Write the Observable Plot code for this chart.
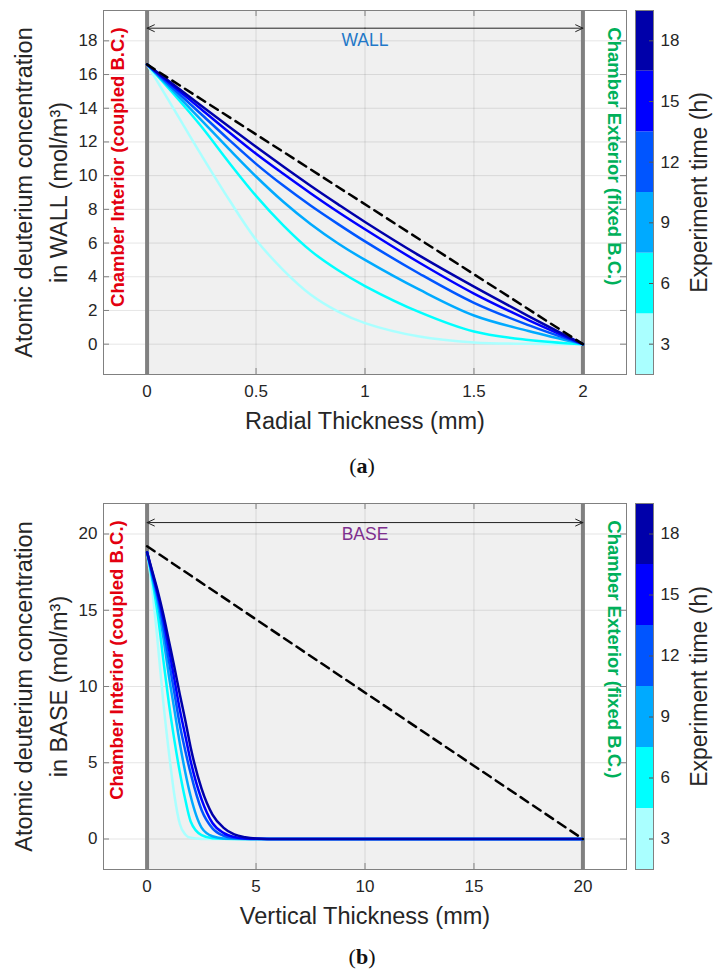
<!DOCTYPE html>
<html>
<head>
<meta charset="utf-8">
<script src="https://cdn.jsdelivr.net/npm/d3@7"></script>
<script src="https://cdn.jsdelivr.net/npm/@observablehq/plot@0.6"></script>
<style>
html,body{margin:0;padding:0;background:#fff;width:713px;overflow:hidden;}
.row{display:flex;width:713px;height:440px;}
.cap{width:702px;padding-left:11px;text-align:center;font-family:"Liberation Serif","DejaVu Serif",serif;font-size:22px;color:#111;overflow:hidden;}
svg{display:block;overflow:visible}
</style>
</head>
<body>
<div class="row" id="rowA"></div>
<div class="cap" style="height:50px;line-height:52px">(<b>a</b>)</div>
<div class="row" id="rowB"></div>
<div class="cap" style="height:44px;line-height:54px">(<b>b</b>)</div>
<script>
// ---- shared ----
const times = [3, 6, 9, 12, 15, 18];
const colors = ["#aaffff", "#00ffff", "#00aaff", "#0055ff", "#0000ff", "#0000aa"];
const cbEdges = [1.5, 4.5, 7.5, 10.5, 13.5, 16.5, 19.5];

// ---- (a) WALL ----
const wallX = [0, 0.125, 0.25, 0.375, 0.5, 0.625, 0.75, 0.875, 1, 1.25, 1.5, 1.75, 2];
const wall3h  = [16.6, 13.9, 11.2, 8.6, 6.2, 4.4, 2.95, 1.95, 1.25, 0.45, 0.1, 0.02, 0];
const wall6h  = [16.6, 14.8, 12.9, 10.8, 8.8, 7.05, 5.55, 4.4, 3.45, 1.9, 0.75, 0.25, 0];
const wall9h  = [16.6, 14.96, 13.28, 11.59, 9.95, 8.45, 7.13, 5.99, 5.0, 3.23, 1.7, 0.78, 0];
const wall12h = [16.6, 15.11, 13.63, 12.14, 10.7, 9.41, 8.23, 7.14, 6.1, 4.18, 2.45, 1.13, 0];
const wall15h = [16.6, 15.26, 13.93, 12.59, 11.3, 10.11, 8.96, 7.86, 6.82, 4.83, 3.0, 1.43, 0];
const wall18h = [16.6, 15.36, 14.13, 12.91, 11.71, 10.54, 9.4, 8.31, 7.25, 5.25, 3.41, 1.67, 0];
const wallSeries = [wall3h, wall6h, wall9h, wall12h, wall15h, wall18h];
const wallDashX = [0, 2];
const wallDashY = [16.6, 0];
const wallBounds = [0, 2];
const wallXTicks = [0, 0.5, 1, 1.5, 2];
const wallYTicks = [0, 2, 4, 6, 8, 10, 12, 14, 16, 18];

// ---- (b) BASE ----
const baseX = [0, 0.25, 0.5, 0.75, 1, 1.25, 1.5, 1.75, 2, 2.5, 3, 3.5, 4, 4.5, 5, 6, 20];
const base3h  = [18.8, 16.2, 12.7, 8.9, 5.7, 2.9, 1.0, 0.3, 0.08, 0.005, 0, 0, 0, 0, 0, 0, 0];
const base6h  = [18.8, 16.9, 14.6, 11.7, 8.9, 6.5, 4.4, 2.6, 1.15, 0.25, 0.05, 0.01, 0, 0, 0, 0, 0];
const base9h  = [18.8, 17.1, 15.4, 13.2, 10.7, 8.5, 6.3, 4.4, 2.8, 0.75, 0.18, 0.04, 0.01, 0, 0, 0, 0];
const base12h = [18.8, 17.3, 15.8, 13.9, 11.7, 9.6, 7.5, 5.8, 4.3, 1.9, 0.7, 0.22, 0.06, 0.015, 0, 0, 0];
const base15h = [18.8, 17.4, 16.0, 14.4, 12.5, 10.5, 8.5, 6.8, 5.1, 2.6, 1.05, 0.4, 0.13, 0.04, 0.01, 0, 0];
const base18h = [18.8, 17.5, 16.2, 14.7, 13.0, 11.3, 9.5, 7.8, 6.0, 3.3, 1.6, 0.75, 0.3, 0.12, 0.04, 0, 0];
const baseSeries = [base3h, base6h, base9h, base12h, base15h, base18h];
const baseDashX = [0, 20];
const baseDashY = [19.2, 0];
const baseBounds = [0, 20];
const baseXTicks = [0, 5, 10, 15, 20];
const baseYTicks = [0, 5, 10, 15, 20];

const style = {fontFamily: "'Liberation Sans', Arial, sans-serif", fontSize: "17px", color: "#262626", background: "transparent", overflow: "visible"};

function rowsOf(xs, series) {
  return times.flatMap((t, i) => xs.map((x, j) => ({t, x, y: series[i][j]})));
}

function mainPanel(o) {
  const W = 630, H = 440, ml = 103, mr = 4;
  const fw = W - ml - mr, fh = H - o.mt - o.mb;
  const mid = (o.bounds[0] + o.bounds[1]) / 2;
  const dash = o.dashX.map((x, i) => ({x, y: o.dashY[i]}));
  return Plot.plot({
    width: W, height: H, marginLeft: ml, marginRight: mr, marginTop: o.mt, marginBottom: o.mb,
    style,
    x: {domain: o.xDomain},
    y: {domain: o.yDomain},
    color: {domain: times, range: colors},
    marks: [
      Plot.rect([o.bounds], {x1: d => d[0], x2: d => d[1], fill: "#f0f0f0"}),
      Plot.gridX(o.xTicks, {stroke: "#000", strokeOpacity: 0.1}),
      Plot.gridY(o.yTicks, {stroke: "#000", strokeOpacity: 0.1}),
      Plot.ruleX(o.bounds, {stroke: "#808080", strokeWidth: 4}),
      Plot.line(rowsOf(o.xs, o.series), {x: "x", y: "y", z: "t", stroke: "t", strokeWidth: 2.5, curve: o.curve}),
      Plot.line(dash, {x: "x", y: "y", stroke: "#000", strokeWidth: 2.5, strokeDasharray: "9,6"}),
      Plot.arrow([{a: mid, b: o.bounds[0]}, {a: mid, b: o.bounds[1]}], {x1: "a", x2: "b", y1: o.arrowY, y2: o.arrowY, stroke: "#222", strokeWidth: 1, headLength: 12, headAngle: 50}),
      Plot.text([o.tag], {x: mid, y: o.tagY, fill: o.tagColor, fontSize: 17.5}),
      Plot.text(["Chamber Interior (coupled B.C.)"], {x: o.redX, y: o.bcY, rotate: -90, textAnchor: "end", fill: "#e3000f", fontWeight: "bold", fontSize: 18.5}),
      Plot.text(["Chamber Exterior (fixed B.C.)"], {x: o.greenX, y: o.bcY, rotate: 90, textAnchor: "start", fill: "#00b05a", fontWeight: "bold", fontSize: 18.5}),
      Plot.tickY(o.yTicks, {y: d => d, insetRight: fw - 6, stroke: "#808080"}),
      Plot.tickY(o.yTicks, {y: d => d, insetLeft: fw - 6, stroke: "#808080"}),
      Plot.tickX(o.xTicks, {x: d => d, insetBottom: fh - 6, stroke: "#808080"}),
      Plot.tickX(o.xTicks, {x: d => d, insetTop: fh - 6, stroke: "#808080"}),
      Plot.frame({stroke: "#808080"}),
      Plot.axisX(o.xTicks, {tickSize: 0, tickPadding: 10, fontSize: 17, label: null, tickFormat: d => String(d)}),
      Plot.axisY(o.yTicks, {tickSize: 0, tickPadding: 6, fontSize: 17, label: null, tickFormat: d => String(d)}),
      Plot.text([o.xLabel], {frameAnchor: "bottom", dy: 47, textAnchor: "middle", lineAnchor: "middle", fontSize: 23.5}),
      Plot.text([o.yLabel], {frameAnchor: "left", dx: -65, rotate: -90, textAnchor: "middle", lineAnchor: "middle", fontSize: 23.5, lineHeight: 1.48})
    ]
  });
}

function colorbar(o) {
  const bands = times.map((t, i) => ({t, lo: cbEdges[i], hi: cbEdges[i + 1]}));
  return Plot.plot({
    width: 83, height: 440, marginLeft: 5, marginRight: 60, marginTop: o.mt, marginBottom: o.mb,
    style,
    x: {domain: ["cb"], padding: 0, axis: null},
    y: {domain: [cbEdges[0], cbEdges[cbEdges.length - 1]], axis: null},
    color: {domain: times, range: colors},
    marks: [
      Plot.barY(bands, {x: () => "cb", y1: "lo", y2: "hi", fill: "t"}),
      Plot.tickY(times, {y: d => d, insetLeft: 14, stroke: "#555"}),
      Plot.frame({stroke: "#808080"}),
      Plot.axisY(times, {anchor: "right", tickSize: 0, tickPadding: 7, fontSize: 17, label: null, tickFormat: d => String(d)}),
      Plot.text(["Experiment time (h)"], {frameAnchor: "right", dx: 46, rotate: -90, textAnchor: "middle", lineAnchor: "middle", fontSize: 23})
    ]
  });
}

const rowA = document.getElementById("rowA");
rowA.append(mainPanel({
  mt: 10, mb: 66, xDomain: [-0.2, 2.2], yDomain: [-1.8, 19.8], curve: "catmull-rom",
  xs: wallX, series: wallSeries, dashX: wallDashX, dashY: wallDashY, bounds: wallBounds,
  xTicks: wallXTicks, yTicks: wallYTicks,
  arrowY: 18.75, tag: "WALL", tagY: 18.0, tagColor: "#1f78c8",
  redX: -0.135, greenX: 2.144, bcY: 18.8,
  xLabel: "Radial Thickness (mm)",
  yLabel: "Atomic deuterium concentration\nin WALL (mol/m³)"
}));
rowA.append(colorbar({mt: 10, mb: 66}));

const rowB = document.getElementById("rowB");
rowB.append(mainPanel({
  mt: 13, mb: 61, xDomain: [-2, 22], yDomain: [-2, 22], curve: "monotone-x",
  xs: baseX, series: baseSeries, dashX: baseDashX, dashY: baseDashY, bounds: baseBounds,
  xTicks: baseXTicks, yTicks: baseYTicks,
  arrowY: 20.75, tag: "BASE", tagY: 19.97, tagColor: "#7e2f8e",
  redX: -1.36, greenX: 21.4, bcY: 20.9,
  xLabel: "Vertical Thickness (mm)",
  yLabel: "Atomic deuterium concentration\nin BASE (mol/m³)"
}));
rowB.append(colorbar({mt: 13, mb: 61}));
</script>
</body>
</html>
